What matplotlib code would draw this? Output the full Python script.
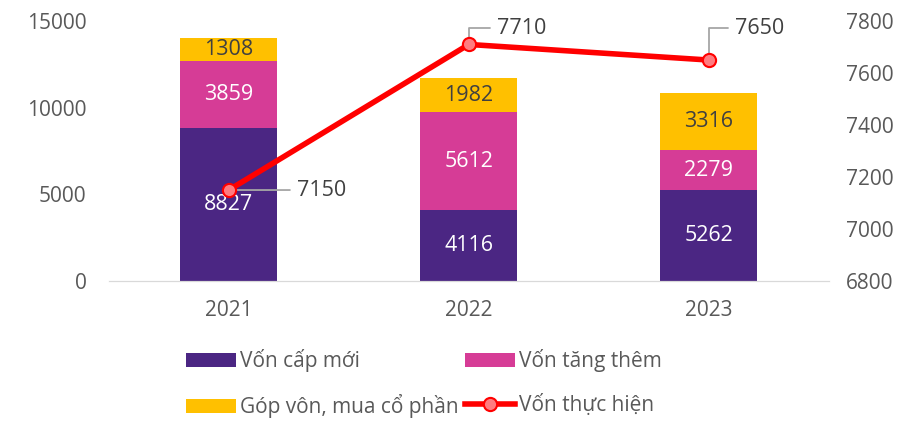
import matplotlib

matplotlib.use("Agg")
import matplotlib.pyplot as plt
import numpy as np

YEARS = ["2021", "2022", "2023"]
VON_CAP_MOI = [8827, 4116, 5262]
VON_TANG_THEM = [3859, 5612, 2279]
GOP_VON = [1308, 1982, 3316]
VON_THUC_HIEN = [7150, 7710, 7650]

PURPLE, PINK, GOLD = "#4b2683", "#d63c96", "#ffc000"
RED, RED_FACE = "#ff0000", "#ff7c80"
INK, TICK = "#404040", "#595959"

plt.rcParams.update({
    "font.family": ["Open Sans", "DejaVu Sans"],
    "font.size": 15,
})

fig = plt.figure(figsize=(9.22, 4.21), dpi=100)
ax = fig.add_axes([0.118, 0.3325, 0.781, 0.6175])
ax2 = ax.twinx()

x = np.arange(len(YEARS))
w = 0.405
b1 = ax.bar(x, VON_CAP_MOI, w, color=PURPLE, label="Vốn cấp mới", zorder=2)
b2 = ax.bar(x, VON_TANG_THEM, w, bottom=VON_CAP_MOI, color=PINK,
            label="Vốn tăng thêm", zorder=2)
bottom3 = np.add(VON_CAP_MOI, VON_TANG_THEM)
b3 = ax.bar(x, GOP_VON, w, bottom=bottom3, color=GOLD,
            label="Góp vôn, mua cổ phần", zorder=2)

for bars, vals, bots, c in ((b1, VON_CAP_MOI, np.zeros(3), "white"),
                            (b2, VON_TANG_THEM, VON_CAP_MOI, "white"),
                            (b3, GOP_VON, bottom3, INK)):
    for xi, v, b in zip(x, vals, bots):
        ax.text(xi, b + v / 2, f"{v}", ha="center", va="center", color=c,
                fontsize=15.5)

ax.set_xlim(-0.5, 2.5)
ax.set_ylim(0, 15000)
ax.set_yticks([0, 5000, 10000, 15000])
ax.set_xticks(x)
ax.set_xticklabels(YEARS)

ln, = ax2.plot(x, VON_THUC_HIEN, "-o", color=RED, lw=4, ms=9.5,
               mfc=RED_FACE, mec=RED, mew=1.5, label="Vốn thực hiện", zorder=5)
ax2.set_ylim(6800, 7800)
ax2.set_yticks(np.arange(6800, 7801, 200))

# data labels with grey leader lines (offsets in points)
offsets = [(49, 0), (20, 11.5), (19, 23)]
for xi, v, (dx, dy) in zip(x, VON_THUC_HIEN, offsets):
    style = "arc3" if dy == 0 else "angle,angleA=0,angleB=90,rad=0"
    ax2.annotate(f"{v}", (xi, v), xytext=(dx, dy), textcoords="offset points",
                 ha="left", va="center", color=INK, fontsize=15.5,
                 arrowprops=dict(arrowstyle="-", color="#a6a6a6", lw=1.3,
                                 shrinkA=3, shrinkB=4, connectionstyle=style))

for a in (ax, ax2):
    for s in ("top", "left", "right"):
        a.spines[s].set_visible(False)
    a.spines["bottom"].set_color("#d9d9d9")
    a.tick_params(length=0, colors=TICK, labelsize=15)
ax.tick_params(axis="y", pad=16)
ax2.tick_params(axis="y", pad=12)
ax.tick_params(axis="x", pad=14)

# row-wise legend order
handles = [b1, b3, b2, ln]
fig.legend(handles, [h.get_label() for h in handles], ncol=2,
           loc="lower left", bbox_to_anchor=(0.181, -0.038), frameon=False,
           fontsize=15, labelcolor=TICK, columnspacing=0.3,
           handlelength=2.4, handleheight=0.6, handletextpad=0.2,
           labelspacing=1.05)

fig.savefig("out.png", dpi=100)
